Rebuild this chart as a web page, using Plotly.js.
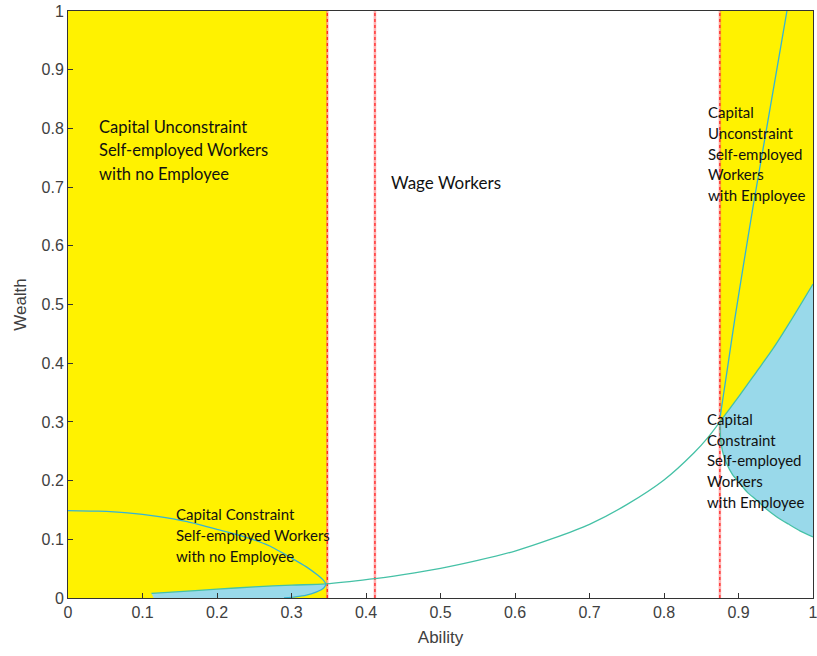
<!DOCTYPE html>
<html>
<head>
<meta charset="utf-8">
<script src="https://cdn.plot.ly/plotly-3.0.1.min.js"></script>
<style>html,body{margin:0;padding:0;background:#fff;}#chart{width:817px;height:656px;}</style>
</head>
<body>
<div id="chart"></div>
<script>
// ---- data ----
const tickVals = [0, 0.1, 0.2, 0.3, 0.4, 0.5, 0.6, 0.7, 0.8, 0.9, 1];
const tickText = ['0', '0.1', '0.2', '0.3', '0.4', '0.5', '0.6', '0.7', '0.8', '0.9', '1'];
const cutoffs = [0.348, 0.412, 0.875];

// left capital-constraint boundary (sideways curve)
const leftBoundX = [0, 0.04, 0.08, 0.12, 0.16, 0.20, 0.24, 0.27, 0.30, 0.32, 0.335, 0.343, 0.346, 0.344, 0.340, 0.333, 0.320, 0.305, 0.29];
const leftBoundY = [0.149, 0.148, 0.145, 0.139, 0.130, 0.117, 0.103, 0.089, 0.068, 0.053, 0.039, 0.030, 0.024, 0.018, 0.014, 0.010, 0.005, 0.002, 0.0];
const leftTipIndex = 12;

// wage / constraint curve
const wageX = [0.112, 0.15, 0.2, 0.25, 0.3, 0.346, 0.405, 0.45, 0.5, 0.55, 0.6, 0.65, 0.7, 0.75, 0.8, 0.84, 0.86, 0.875, 0.902, 0.924, 0.947, 0.969, 1.0];
const wageY = [0.008, 0.011, 0.015, 0.019, 0.022, 0.024, 0.032, 0.040, 0.0505, 0.064, 0.080, 0.101, 0.1255, 0.159, 0.201, 0.247, 0.275, 0.30, 0.346, 0.385, 0.426, 0.470, 0.535];
const wageLeftEnd = 5;     // index where wage curve meets left boundary tip
const wageRightStart = 17; // index at x = 0.875

// right lower boundary of constrained region
const rightLowX = [0.875, 0.8755, 0.877, 0.880, 0.884, 0.892, 0.902, 0.912, 0.924, 0.937, 0.951, 0.967, 0.983, 1.0];
const rightLowY = [0.30, 0.28, 0.26, 0.243, 0.229, 0.21, 0.195, 0.18, 0.167, 0.152, 0.1385, 0.126, 0.114, 0.104];

// steep boundary in right region
const steepX = [0.8755, 0.885, 0.895, 0.907, 0.92, 0.935, 0.95, 0.965];
const steepY = [0.31, 0.39, 0.475, 0.57, 0.67, 0.78, 0.89, 1.0];

const blueLeftFloorX = [0.29, 0.115];

// ---- styles ----
const YELLOW = '#fff200';
const BLUE = '#99d9ea';
const TEAL = '#45c1a6';
const SKY = '#35b3d6';

const traces = [];
// yellow left block
traces.push({x: [0, cutoffs[0], cutoffs[0], 0], y: [0, 0, 1, 1], fill: 'toself', fillcolor: YELLOW, mode: 'none', hoverinfo: 'skip'});
// yellow right block (above wage curve)
const wrX = wageX.slice(wageRightStart), wrY = wageY.slice(wageRightStart);
traces.push({x: wrX.concat([1, cutoffs[2]]), y: wrY.concat([1, 1]), fill: 'toself', fillcolor: YELLOW, mode: 'none', hoverinfo: 'skip'});
// blue right block
traces.push({x: wrX.concat(rightLowX.slice().reverse()), y: wrY.concat(rightLowY.slice().reverse()), fill: 'toself', fillcolor: BLUE, mode: 'none', hoverinfo: 'skip'});
// blue left block
const blX = wageX.slice(0, wageLeftEnd + 1).concat(leftBoundX.slice(leftTipIndex), blueLeftFloorX);
const blY = wageY.slice(0, wageLeftEnd + 1).concat(leftBoundY.slice(leftTipIndex), [0, 0]);
traces.push({x: blX, y: blY, fill: 'toself', fillcolor: BLUE, mode: 'none', hoverinfo: 'skip'});

// red cutoff lines
cutoffs.forEach(c => {
  traces.push({x: [c, c], y: [0, 1], mode: 'lines', line: {color: 'rgba(255,110,110,0.55)', width: 2.5}, hoverinfo: 'skip'});
  traces.push({x: [c, c], y: [0, 1], mode: 'lines', line: {color: '#ff0000', width: 1, dash: 'dot'}, hoverinfo: 'skip'});
});

// curves
traces.push({x: leftBoundX, y: leftBoundY, mode: 'lines', line: {color: SKY, width: 1.3, shape: 'spline', smoothing: 0.6}});
traces.push({x: wageX, y: wageY, mode: 'lines', line: {color: TEAL, width: 1.3, shape: 'spline', smoothing: 0.8}});
traces.push({x: rightLowX, y: rightLowY, mode: 'lines', line: {color: TEAL, width: 1.3, shape: 'spline', smoothing: 0.6}});
traces.push({x: steepX, y: steepY, mode: 'lines', line: {color: SKY, width: 1.3, shape: 'spline', smoothing: 0.6}});

// ---- annotations (text blocks) ----
const annFont = 'Lato, "Open Sans", sans-serif';
function block(lines, x, y0, step, size) {
  return lines.map((t, i) => ({
    text: t, xref: 'x', yref: 'y', x: x, y: y0 - i * step, xanchor: 'left', yanchor: 'middle',
    showarrow: false, align: 'left', borderpad: 0, font: {family: annFont, size: size, color: '#111111'}
  }));
}
const annotations = [].concat(
  block(['Capital Unconstraint', 'Self-employed Workers', 'with no Employee'], 0.040, 0.8024, 0.040, 16.5),
  block(['Wage Workers'], 0.432, 0.7075, 0.0, 17),
  block(['Capital', 'Unconstraint', 'Self-employed', 'Workers', 'with Employee'], 0.8575, 0.8274, 0.0353, 15),
  block(['Capital', 'Constraint', 'Self-employed', 'Workers', 'with Employee'], 0.8565, 0.3050, 0.0353, 15),
  block(['Capital Constraint', 'Self-employed Workers', 'with no Employee'], 0.1430, 0.1426, 0.0355, 15)
);

const axisCommon = {
  range: [0, 1], autorange: false, showgrid: false, zeroline: false,
  tickvals: tickVals, ticktext: tickText, ticks: 'inside', ticklen: 5, tickwidth: 1, tickcolor: '#333333',
  showline: true, linecolor: '#333333', linewidth: 1, mirror: true, ticklabeloverflow: 'allow',
  tickfont: {family: '"Liberation Sans", Arial, sans-serif', size: 16, color: '#404040'}
};
const titleFont = {family: '"Liberation Sans", Arial, sans-serif', size: 17, color: '#404040'};

const layout = {
  width: 817, height: 656,
  margin: {l: 68, r: 4, t: 11, b: 58},
  paper_bgcolor: '#ffffff', plot_bgcolor: '#ffffff',
  showlegend: false,
  xaxis: Object.assign({}, axisCommon, {title: {text: 'Ability', font: titleFont, standoff: 10}}),
  yaxis: Object.assign({}, axisCommon, {title: {text: 'Wealth', font: titleFont, standoff: 10}}),
  annotations: annotations
};

Plotly.newPlot('chart', traces, layout, {displayModeBar: false, staticPlot: true});
</script>
</body>
</html>
